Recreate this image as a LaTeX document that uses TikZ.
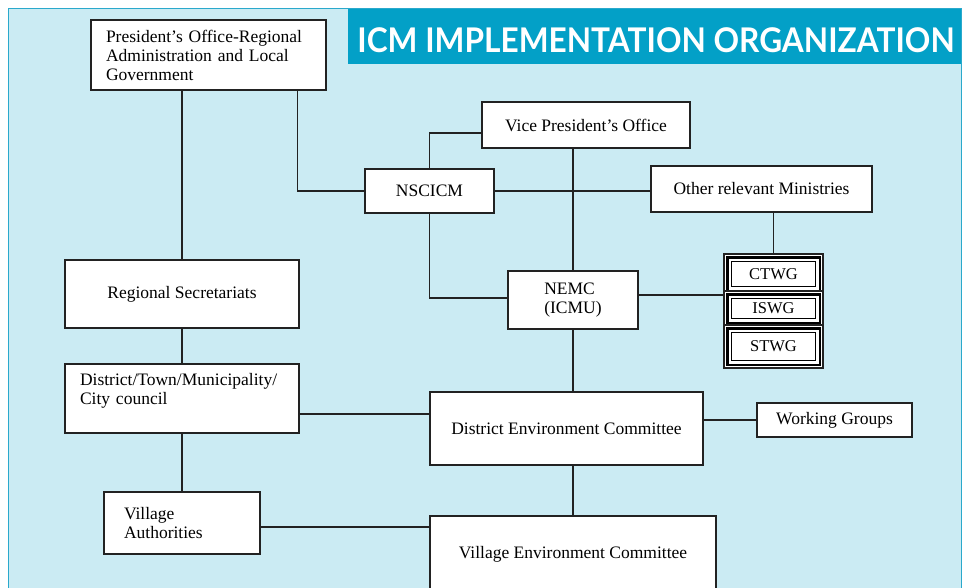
\documentclass[tikz,border=0pt]{standalone}
\usepackage{fontspec}
\setmainfont{Liberation Serif}
\newfontfamily\titlefont{Lato}
\definecolor{panelfill}{HTML}{CBEBF3}
\definecolor{panelborder}{HTML}{2AA9CC}
\definecolor{titlefill}{HTML}{03A0C7}
\definecolor{darkline}{HTML}{222222}
\tikzset{
  unit/.style={
    rectangle,
    draw=darkline,
    fill=white,
    line width=1.3pt,
    inner sep=0pt,
    font=\fontsize{17.5}{19}\selectfont
  },
  wgbox/.style={unit, line width=1.4pt, minimum width=99pt, font=\fontsize{16.5}{18}\selectfont},
  title/.style={font=\titlefont\bfseries\fontsize{34}{34}\selectfont, text=white},
  link/.style={line width=1.2pt, draw=darkline}
}

\begin{document}
\begin{tikzpicture}[x=1pt, y=-1pt]
\clip (0,0) rectangle (968,588);

% Panel and heading.
\fill[white] (0,0) rectangle (968,588);
\fill[panelfill] (8,9) rectangle (961,600);
\draw[panelborder, line width=1pt] (8,600) -- (8,9) -- (961,9) -- (961,600);
\fill[titlefill] (348,9) rectangle (961,64);
\node[title] (heading) at (656,40) {\scalebox{0.93}[1]{ICM IMPLEMENTATION ORGANIZATION}};

% Central government.
\node[unit, minimum width=235pt, minimum height=70pt, align=left, text width=205pt] (poralg) at (208.5,55)
  {President's Office-Regional\\Administration and Local\\Government};
\node[unit, minimum width=208pt, minimum height=46pt] (vpo) at (586,125) {Vice President's Office};
\node[unit, minimum width=129pt, minimum height=44pt] (nscicm) at (429.5,191) {NSCICM};
\node[unit, minimum width=221pt, minimum height=46pt] (others) at (761.5,189) {Other relevant Ministries};

% Regional and national agencies.
\node[unit, minimum width=234pt, minimum height=68pt] (regsec) at (182,294) {Regional Secretariats};
\node[unit, minimum width=130pt, minimum height=58pt, align=left] (nemc) at (573,300) {NEMC\\(ICMU)};

% Technical working groups.
\foreach \name/\lab/\y/\h in {ctwg/CTWG/274/40, iswg/ISWG/308.5/35, stwg/STWG/346.5/43} {
  \node[wgbox, minimum height=\h pt] (\name) at (773.5,\y) {\lab};
  \draw[line width=2.8pt] ([shift={(3.8pt,-3.8pt)}]\name.north west) rectangle ([shift={(-3.8pt,3.8pt)}]\name.south east);
  \draw[line width=1pt] ([shift={(8.5pt,-8.5pt)}]\name.north west) rectangle ([shift={(-8.5pt,8.5pt)}]\name.south east);
}

% District level.
\node[unit, minimum width=234pt, minimum height=69pt, align=left, text width=204pt] (district) at (182,398.5)
  {District/Town/Municipality/\\City council\\~};
\node[unit, minimum width=273pt, minimum height=73pt] (dec) at (566.5,428.5) {District Environment Committee};
\node[unit, minimum width=155pt, minimum height=34pt] (wg) at (834.5,420) {Working Groups};

% Village level.
\node[unit, minimum width=156pt, minimum height=62pt, align=left, text width=116pt] (vauth) at (182,523) {Village\\Authorities};
\node[unit, minimum width=286pt, minimum height=76pt] (vec) at (573,554) {Village Environment Committee};

% Links.
\draw[link] (poralg.south -| regsec.north) -- (regsec.north);
\draw[link] ([xshift=-29pt]poralg.south east) |- (nscicm.west);
\draw[link] (nscicm.north) |- ([yshift=-8pt]vpo.west);
\draw[link] (nscicm.east) -- (nscicm.east -| others.west);
\draw[link] (vpo.south -| nemc.north) -- (nemc.north);
\draw[link] (nscicm.south) |- ([yshift=2pt]nemc.west);
\draw[link] (ctwg.north |- others.south) -- (ctwg.north);
\draw[link] ([yshift=5pt]nemc.east) -- ([yshift=5pt]nemc.east -| ctwg.west);
\draw[link] (nemc.south) -- (nemc.south |- dec.north);
\draw[link] (regsec.south) -- (district.north);
\draw[link] ([yshift=-15.5pt]district.east) -- ([yshift=-15.5pt]district.east -| dec.west);
\draw[link] (dec.east |- wg.west) -- (wg.west);
\draw[link] (district.south) -- (vauth.north);
\draw[link] (vec.north |- dec.south) -- (vec.north);
\draw[link] ([yshift=-4pt]vauth.east) -- ([yshift=-4pt]vauth.east -| vec.west);

\end{tikzpicture}
\end{document}
